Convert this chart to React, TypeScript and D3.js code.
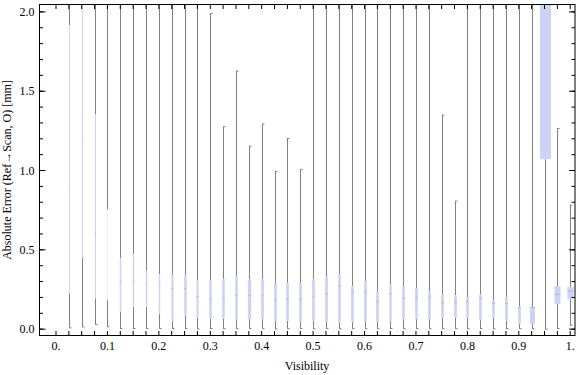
import React from "react";
import * as d3 from "d3";

// visibility bins (box centres)
const visibility = [
  0.025, 0.05, 0.075, 0.1, 0.125, 0.15, 0.175, 0.2, 0.225, 0.25,
  0.275, 0.3, 0.325, 0.35, 0.375, 0.4, 0.425, 0.45, 0.475, 0.5,
  0.525, 0.55, 0.575, 0.6, 0.625, 0.65, 0.675, 0.7, 0.725, 0.75,
  0.775, 0.8, 0.825, 0.85, 0.875, 0.9, 0.925, 0.95, 0.975, 1.0,
];

// absolute error statistics [mm]
const whiskerLow = [
  0.008, 0.014, 0.03, 0.015, 0.004, 0.004, 0.004, 0.004, 0.004, 0.004,
  0.001, 0.004, 0.003, 0.003, 0.003, 0.003, 0.001, 0.003, 0.004, 0.003,
  0.003, 0.002, 0.003, 0.003, 0.003, 0.004, 0.003, 0.003, 0.003, 0.003,
  0.003, 0.003, 0.003, 0.002, 0.003, 0.003, 0.003, 0.0, 0.004, 0.025,
];
const q1 = [
  0.225, 0.45, 0.194, 0.183, 0.109, 0.141, 0.141, 0.095, 0.05, 0.084,
  0.074, 0.067, 0.067, 0.057, 0.063, 0.063, 0.052, 0.052, 0.05, 0.052,
  0.046, 0.042, 0.046, 0.046, 0.046, 0.05, 0.063, 0.063, 0.063, 0.074,
  0.071, 0.071, 0.057, 0.071, 0.052, 0.032, 0.032, 1.072, 0.158, 0.189,
];
const median = [
  0.9, 1.2, 0.6, 0.45, 0.3, 0.3, 0.28, 0.277, 0.257, 0.257,
  0.206, 0.19, 0.197, 0.214, 0.21, 0.21, 0.183, 0.189, 0.189, 0.208,
  0.225, 0.271, 0.235, 0.235, 0.172, 0.225, 0.194, 0.2, 0.2, 0.166,
  0.166, 0.172, 0.194, 0.162, 0.162, 0.137, 0.137, 2.2, 0.22, 0.24,
];
const q3 = [
  1.917, 2.3, 1.356, 0.755, 0.446, 0.473, 0.368, 0.347, 0.34, 0.34,
  0.307, 0.309, 0.317, 0.332, 0.313, 0.317, 0.286, 0.292, 0.29, 0.317,
  0.334, 0.347, 0.271, 0.303, 0.235, 0.284, 0.267, 0.26, 0.24, 0.219,
  0.214, 0.202, 0.219, 0.183, 0.202, 0.145, 0.139, 2.6, 0.271, 0.265,
];
const whiskerHigh = [
  2.6, 2.9, 2.5, 2.7, 2.4, 2.8, 2.5, 2.6, 2.3, 2.5,
  2.4, 1.99, 1.276, 1.627, 1.154, 1.293, 0.994, 1.202, 1.007, 2.3,
  2.5, 2.4, 2.2, 2.6, 2.3, 2.4, 2.2, 2.3, 2.5, 1.349,
  0.807, 2.2, 2.4, 2.3, 2.2, 2.5, 2.3, 2.8, 1.265, 0.782,
];
// number of samples per bin (sets box width)
const sampleCount = [
  30, 35, 35, 12, 50, 50, 50, 50, 70, 85,
  70, 85, 85, 85, 110, 90, 90, 90, 90, 90,
  90, 90, 90, 90, 90, 80, 90, 90, 90, 90,
  90, 90, 90, 90, 90, 90, 165, 370, 200, 210,
];

const xTickValues = [
  0, 0.025, 0.05, 0.075, 0.1, 0.125, 0.15, 0.175, 0.2, 0.225, 0.25,
  0.275, 0.3, 0.325, 0.35, 0.375, 0.4, 0.425, 0.45, 0.475, 0.5,
  0.525, 0.55, 0.575, 0.6, 0.625, 0.65, 0.675, 0.7, 0.725, 0.75,
  0.775, 0.8, 0.825, 0.85, 0.875, 0.9, 0.925, 0.95, 0.975, 1.0,
];
const xLabelValues = [0, 0.1, 0.2, 0.3, 0.4, 0.5, 0.6, 0.7, 0.8, 0.9, 1.0];
const xLabels = ["0.", "0.1", "0.2", "0.3", "0.4", "0.5", "0.6", "0.7", "0.8", "0.9", "1."];
const yMinorValues = [0, 0.1, 0.2, 0.3, 0.4, 0.5, 0.6, 0.7, 0.8, 0.9, 1.0, 1.1, 1.2, 1.3, 1.4, 1.5, 1.6, 1.7, 1.8, 1.9, 2.0];
const yMajorValues = [0, 0.5, 1.0, 1.5, 2.0];
const yLabels = ["0.0", "0.5", "1.0", "1.5", "2.0"];

export default function App() {
  const width = 576;
  const height = 375;
  const left = 39.5;
  const right = 575;
  const top = 4.5;
  const bottom = 335.5;

  const x = d3.scaleLinear().domain([-0.0321, 1.0093]).range([left, right]);
  const y = d3.scaleLinear().domain([-0.04, 2.0466]).range([bottom, top]);
  const w = d3.scaleLinear().domain([0, 370]).range([0, 11]);

  const boxFill = "#ccd3f4";
  const whisker = "#808080";
  const font = "'Liberation Serif', 'Times New Roman', serif";

  const rows = visibility.map((v, i) => ({
    v,
    lo: whiskerLow[i],
    q1: q1[i],
    med: median[i],
    q3: q3[i],
    hi: whiskerHigh[i],
    bw: w(sampleCount[i]),
  }));

  return (
    <svg width={width} height={height} style={{ position: "absolute", left: 0, top: 0, background: "#fff" }}>
      <defs>
        <clipPath id="plot">
          <rect x={left} y={top} width={right - left} height={bottom - top} />
        </clipPath>
      </defs>
      <g clipPath="url(#plot)">
        {rows.map((d, i) => {
          const cx = Math.round(x(d.v)) + 0.5; // snap whisker to pixel grid
          return (
            <g key={i}>
              <line x1={cx} x2={cx} y1={y(d.lo)} y2={y(d.q1)} stroke={whisker} strokeWidth={1} />
              <line x1={cx} x2={cx} y1={y(d.q3)} y2={y(d.hi)} stroke={whisker} strokeWidth={1} />
              <line x1={cx - 0.5} x2={cx + 2} y1={y(d.lo)} y2={y(d.lo)} stroke={whisker} strokeWidth={1} />
              <line x1={cx - 0.5} x2={cx + 2} y1={y(d.hi)} y2={y(d.hi)} stroke={whisker} strokeWidth={1} />
              <rect x={cx - d.bw / 2} y={y(d.q3)} width={d.bw} height={y(d.q1) - y(d.q3)} fill={boxFill} />
              <line x1={cx - d.bw / 2} x2={cx + d.bw / 2} y1={y(d.med)} y2={y(d.med)} stroke="#aab0cc" strokeWidth={0.8} />
            </g>
          );
        })}
      </g>

      {/* frame */}
      <rect x={left} y={top} width={right - left} height={bottom - top} fill="none" stroke="#000" strokeWidth={1} />

      {/* x ticks top and bottom */}
      {xTickValues.map((t, i) => (
        <g key={"xt" + i}>
          <line x1={x(t)} x2={x(t)} y1={bottom} y2={bottom - 4.5} stroke="#000" />
          <line x1={x(t)} x2={x(t)} y1={top} y2={top + 4.5} stroke="#000" />
        </g>
      ))}
      {xLabelValues.map((t, i) => (
        <text key={"xl" + i} x={x(t)} y={350} textAnchor="middle" fontFamily={font} fontSize={12} fill="#000">
          {xLabels[i]}
        </text>
      ))}

      {/* y ticks left and right */}
      {yMinorValues.map((t, i) => (
        <g key={"ym" + i}>
          <line x1={left} x2={left + 3.5} y1={y(t)} y2={y(t)} stroke="#000" />
          <line x1={right} x2={right - 3.5} y1={y(t)} y2={y(t)} stroke="#000" />
        </g>
      ))}
      {yMajorValues.map((t, i) => (
        <g key={"yM" + i}>
          <line x1={left} x2={left + 6} y1={y(t)} y2={y(t)} stroke="#000" />
          <line x1={right} x2={right - 6} y1={y(t)} y2={y(t)} stroke="#000" />
          <text x={34.5} y={y(t) + 4} textAnchor="end" fontFamily={font} fontSize={12} fill="#000">
            {yLabels[i]}
          </text>
        </g>
      ))}

      <text x={307} y={370} textAnchor="middle" fontFamily={font} fontSize={12} fill="#000">
        Visibility
      </text>
      <text transform={`translate(10.5, 170) rotate(-90)`} textAnchor="middle" fontFamily={font} fontSize={12} fill="#000">
        Absolute Error (Ref→Scan, O) [mm]
      </text>
    </svg>
  );
}
